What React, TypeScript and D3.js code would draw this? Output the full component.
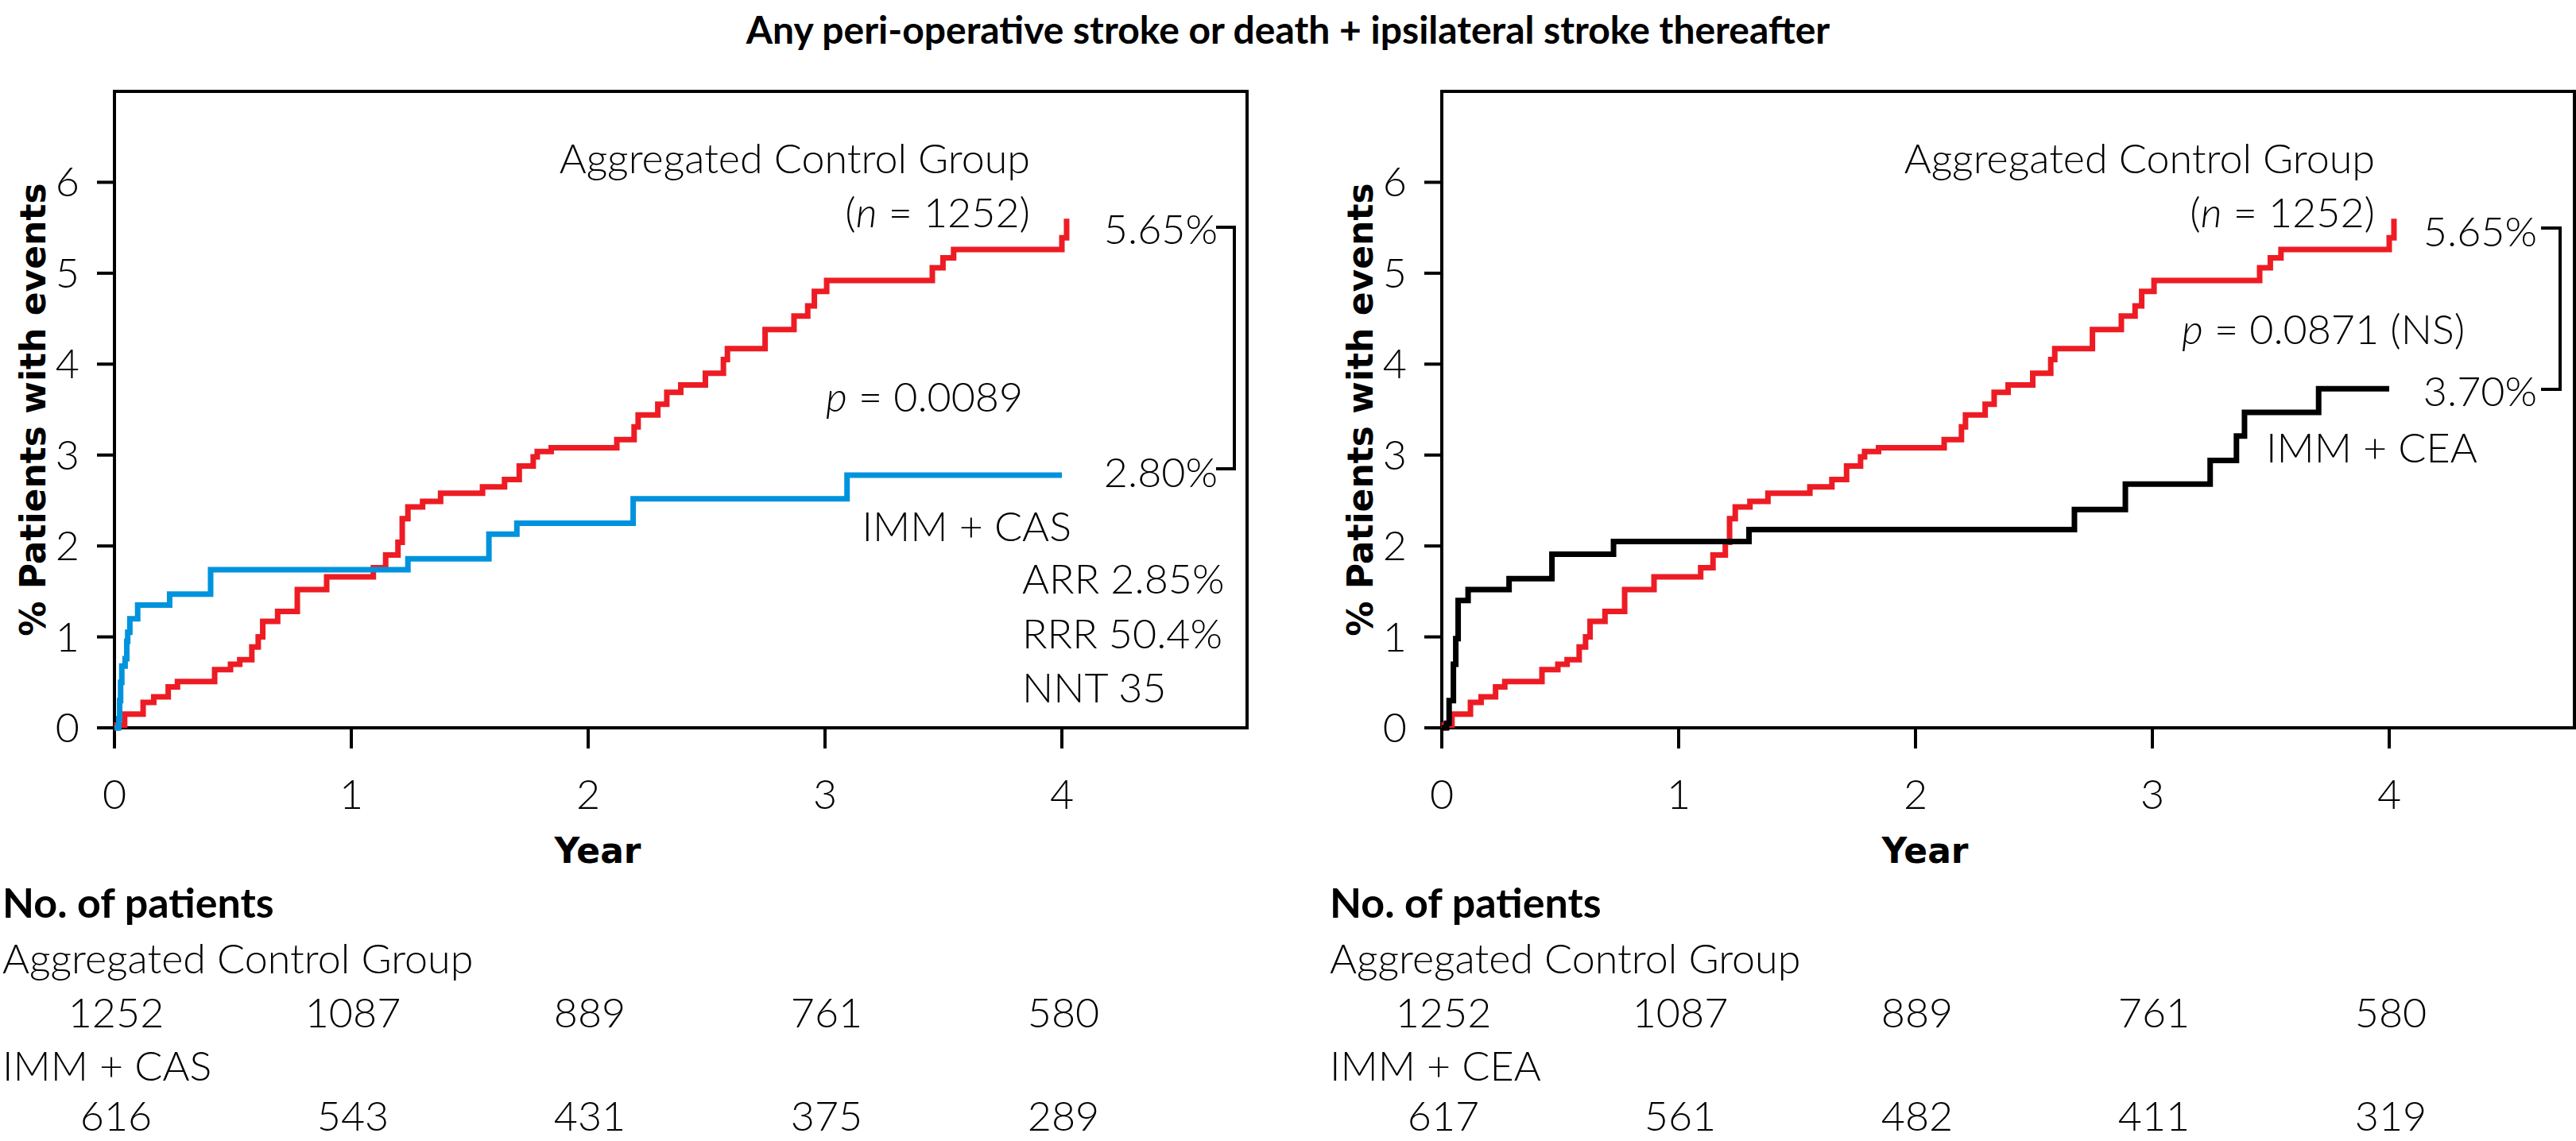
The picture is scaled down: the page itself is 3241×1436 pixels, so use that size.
import React from 'react';
import * as d3 from 'd3';

// ---- data ----
const yearTicks = [0, 1, 2, 3, 4];
const pctTicks = [0, 1, 2, 3, 4, 5, 6];

const controlYears = [
  0, 0.01, 0.043, 0.121, 0.166, 0.227, 0.266, 0.423, 0.49, 0.529,
  0.58, 0.607, 0.626, 0.689, 0.772, 0.896, 1.093, 1.145, 1.197, 1.215,
  1.239, 1.301, 1.377, 1.554, 1.647, 1.709, 1.768, 1.785, 1.844, 2.121,
  2.194, 2.211, 2.294, 2.332, 2.391, 2.495, 2.571, 2.588, 2.747, 2.869,
  2.927, 2.955, 3.007, 3.453, 3.498, 3.543, 4.0, 4.02,
];
const controlPct = [
  0, 0.03, 0.15, 0.28, 0.34, 0.45, 0.51, 0.64, 0.7, 0.75,
  0.89, 1.0, 1.17, 1.28, 1.52, 1.66, 1.76, 1.9, 2.04, 2.3,
  2.43, 2.49, 2.58, 2.65, 2.73, 2.88, 2.98, 3.04, 3.08, 3.17,
  3.31, 3.44, 3.56, 3.69, 3.77, 3.9, 4.05, 4.17, 4.38, 4.53,
  4.64, 4.8, 4.92, 5.06, 5.17, 5.26, 5.39, 5.6,
];

const casYears = [0, 0.018, 0.022, 0.026, 0.031, 0.045, 0.052, 0.056, 0.065, 0.098, 0.233, 0.406, 1.239, 1.581, 1.699, 2.19, 3.093, 4.0];
const casPct = [0, 0.1, 0.3, 0.5, 0.68, 0.76, 0.95, 1.05, 1.2, 1.35, 1.47, 1.74, 1.86, 2.13, 2.25, 2.52, 2.78, 2.78];

const ceaYears = [0, 0.02, 0.031, 0.049, 0.059, 0.069, 0.111, 0.284, 0.465, 0.725, 1.297, 2.671, 2.886, 3.244, 3.355, 3.389, 3.702, 4.0];
const ceaPct = [0, 0.05, 0.3, 0.7, 0.98, 1.4, 1.52, 1.64, 1.91, 2.05, 2.18, 2.4, 2.68, 2.94, 3.21, 3.47, 3.73, 3.73];

const controlAtRisk = [1252, 1087, 889, 761, 580];
const casAtRisk = [616, 543, 431, 375, 289];
const ceaAtRisk = [617, 561, 482, 411, 319];

const title = 'Any peri-operative stroke or death + ipsilateral stroke thereafter';

// ---- look ----
const W = 3241;
const H = 1436;
const LIGHT = "'Lato', 'Open Sans', sans-serif";
const BOLD_AXIS = "'DejaVu Sans', Verdana, sans-serif";
const RED = '#ed1c24';
const BLUE = '#0093dd';
const BLACK = '#000';

const top = 115;
const bottom = 916;
const plotW = 1425;

const yScale = d3.scaleLinear().domain([0, 7]).range([bottom, top]);

const toPoints = (xs: number[], ys: number[]) => xs.map((x, i) => [x, ys[i]] as [number, number]);

interface PanelProps {
  x0: number;
  groupPts: [number, number][];
  groupColor: string;
  groupName: string;
  groupAtRisk: number[];
  pValue: string;
  ctrlEnd: string;
  groupEnd: string;
  notes: string[];
  layout: {
    acgRight: number;
    endRight: number;
    bracketX: [number, number];
    bracketY: [number, number];
    endBase: [number, number];
    pX: number;
    pBase: number;
    groupX: number;
    groupAnchor: 'start' | 'end';
    groupBase: number;
    notesX: number;
    tableX: number;
  };
}

const Panel: React.FC<PanelProps> = ({
  x0, groupPts, groupColor, groupName, groupAtRisk, pValue, ctrlEnd, groupEnd, notes, layout,
}) => {
  const xScale = d3.scaleLinear().domain([0, plotW / 298]).range([x0, x0 + plotW]);
  const line = d3.line<[number, number]>()
    .x(d => xScale(d[0]))
    .y(d => yScale(d[1]))
    .curve(d3.curveStepAfter);
  const ctrlPath = line(toPoints(controlYears, controlPct)) || '';
  const groupPath = line(groupPts) || '';
  const L = layout;

  return (
    <g>
      {/* frame */}
      <rect x={x0} y={top} width={plotW} height={bottom - top} fill="none" stroke="#000" strokeWidth={4} />

      {/* y axis */}
      {pctTicks.map(t => (
        <g key={t}>
          <line x1={x0 - 22} x2={x0} y1={yScale(t)} y2={yScale(t)} stroke="#000" strokeWidth={4} />
          <text x={x0 - 44} y={yScale(t) + 18} textAnchor="end" fontFamily={LIGHT} fontWeight={300} fontSize={52}>{t}</text>
        </g>
      ))}
      <text
        transform={`translate(${x0 - 103}, ${(top + bottom) / 2}) rotate(-90)`}
        textAnchor="middle" dominantBaseline="central"
        fontFamily={BOLD_AXIS} fontWeight="bold" fontSize={44}
      >% Patients with events</text>

      {/* x axis */}
      {yearTicks.map(t => (
        <g key={t}>
          <line x1={xScale(t)} x2={xScale(t)} y1={bottom} y2={bottom + 26} stroke="#000" strokeWidth={4} />
          <text x={xScale(t)} y={1018} textAnchor="middle" fontFamily={LIGHT} fontWeight={300} fontSize={52}>{t}</text>
        </g>
      ))}
      <text x={xScale(2) + 12} y={1086} textAnchor="middle" fontFamily={BOLD_AXIS} fontWeight="bold" fontSize={44}>Year</text>

      {/* curves */}
      <path d={ctrlPath} fill="none" stroke={RED} strokeWidth={7} />
      <path d={groupPath} fill="none" stroke={groupColor} strokeWidth={7} />

      {/* annotations */}
      <g fontFamily={LIGHT} fontWeight={300} fontSize={52}>
        <text x={x0 + L.acgRight} y={218} textAnchor="end">Aggregated Control Group</text>
        <text x={x0 + L.acgRight} y={286} textAnchor="end">(<tspan fontStyle="italic">n</tspan> = 1252)</text>
        <text x={x0 + L.endRight} y={L.endBase[0]} textAnchor="end">{ctrlEnd}</text>
        <text x={x0 + L.endRight} y={L.endBase[1]} textAnchor="end">{groupEnd}</text>
        <text x={x0 + L.pX} y={L.pBase}><tspan fontStyle="italic">p</tspan> = {pValue}</text>
        <text x={x0 + L.groupX} y={L.groupBase} textAnchor={L.groupAnchor}>{groupName}</text>
        {notes.map((n, i) => (
          <text key={n} x={x0 + L.notesX} y={747 + i * 68.5}>{n}</text>
        ))}
      </g>
      <path
        d={`M${x0 + L.bracketX[0]},${L.bracketY[0]}H${x0 + L.bracketX[1]}V${L.bracketY[1]}H${x0 + L.bracketX[0]}`}
        fill="none" stroke="#000" strokeWidth={4}
      />

      {/* numbers at risk */}
      <g fontFamily={LIGHT} fontWeight={300} fontSize={52}>
        <text x={L.tableX} y={1155} fontWeight="bold">No. of patients</text>
        <text x={L.tableX} y={1225}>Aggregated Control Group</text>
        {controlAtRisk.map((v, i) => (
          <text key={i} x={xScale(yearTicks[i]) + 2} y={1293} textAnchor="middle">{v}</text>
        ))}
        <text x={L.tableX} y={1360}>{groupName}</text>
        {groupAtRisk.map((v, i) => (
          <text key={i} x={xScale(yearTicks[i]) + 2} y={1423} textAnchor="middle">{v}</text>
        ))}
      </g>
    </g>
  );
};

const App: React.FC = () => (
  <svg width={W} height={H} viewBox={`0 0 ${W} ${H}`} style={{ position: 'absolute', left: 0, top: 0, background: '#fff' }}>
    <text x={W / 2} y={55} textAnchor="middle" fontFamily={LIGHT} fontWeight="bold" fontSize={48}>{title}</text>
    <Panel
      x0={144}
      groupPts={toPoints(casYears, casPct)}
      groupColor={BLUE}
      groupName="IMM + CAS"
      groupAtRisk={casAtRisk}
      pValue="0.0089"
      ctrlEnd="5.65%"
      groupEnd="2.80%"
      notes={['ARR 2.85%', 'RRR 50.4%', 'NNT 35']}
      layout={{
        acgRight: 1152, endRight: 1388, bracketX: [1386, 1409], bracketY: [286, 590],
        endBase: [307, 613], pX: 895, pBase: 518, groupX: 1204, groupAnchor: 'end', groupBase: 681,
        notesX: 1142, tableX: 3,
      }}
    />
    <Panel
      x0={1814}
      groupPts={toPoints(ceaYears, ceaPct)}
      groupColor={BLACK}
      groupName="IMM + CEA"
      groupAtRisk={ceaAtRisk}
      pValue="0.0871 (NS)"
      ctrlEnd="5.65%"
      groupEnd="3.70%"
      notes={[]}
      layout={{
        acgRight: 1174, endRight: 1378, bracketX: [1383, 1407], bracketY: [287, 490],
        endBase: [310, 511], pX: 931, pBase: 433, groupX: 1037, groupAnchor: 'start', groupBase: 582,
        notesX: 0, tableX: 1673,
      }}
    />
  </svg>
);

export default App;
